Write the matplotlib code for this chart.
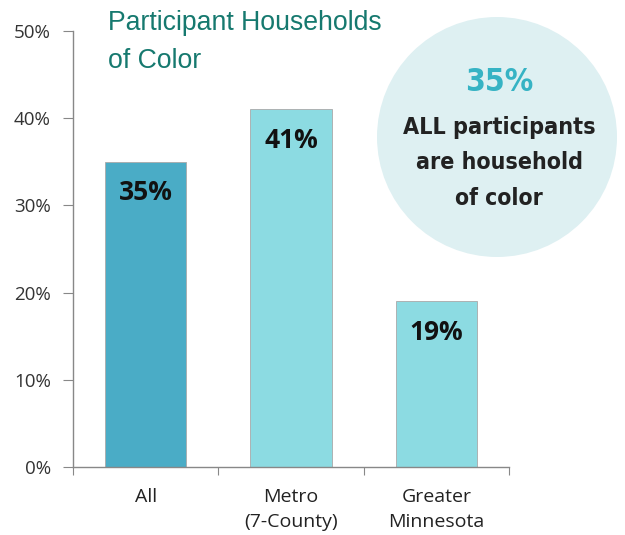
import matplotlib
matplotlib.use("Agg")
import matplotlib.pyplot as plt
from matplotlib.patches import Ellipse
from matplotlib import font_manager as fm

categories = ["All", "Metro\n(7-County)", "Greater\nMinnesota"]
values = [35, 41, 19]
bar_labels = ["35%", "41%", "19%"]
yticks = [0, 10, 20, 30, 40, 50]
ytick_labels = ["0%", "10%", "20%", "30%", "40%", "50%"]
bar_colors = ["#4aacc6", "#8cdbe2", "#8cdbe2"]

# pick a condensed bold font if one is installed
def pick_condensed():
    fl = fm.fontManager.ttflist
    for f in fl:
        if f.name == "Liberation Sans Narrow" and f.weight in (700, "bold"):
            return fm.FontProperties(fname=f.fname)
    for f in fl:
        if ("Condensed" in f.name or "Narrow" in f.name or f.stretch in ("condensed", "semi-condensed", 'extra-condensed')) \
                and f.weight in (700, "bold"):
            return fm.FontProperties(fname=f.fname)
    return fm.FontProperties(family="Roboto", weight="bold")

cprop = pick_condensed()

W, H = 625, 535
fig = plt.figure(figsize=(W / 100, H / 100), dpi=100)
ax = fig.add_axes([73 / W, 1 - 467 / H, (509 - 73) / W, (467 - 31) / H])
ax.set_facecolor("none")

fig.patches.append(Ellipse((497 / W, 1 - 137 / H), 2 * 120 / W, 2 * 120 / H,
                           transform=fig.transFigure, facecolor="#def0f2",
                           edgecolor="none", zorder=0))

x = list(range(len(categories)))
ax.bar(x, values, width=0.56, color=bar_colors, edgecolor="#a9a9a9", linewidth=0.6, zorder=2)
ax.set_xlim(-0.5, 2.5)
ax.set_ylim(0, 50)

for xi, v, lab in zip(x, values, bar_labels):
    ax.annotate(lab, (xi, v), xytext=(0, -31 * 0.72), textcoords="offset points",
                ha="center", va="center", fontsize=19, fontweight="bold",
                family="Open Sans", color="#111111", zorder=3)

ax.set_yticks(yticks)
ax.set_yticklabels(ytick_labels, family="Open Sans", fontsize=13.5, color="#333333")
ax.set_xticks([-0.5, 0.5, 1.5, 2.5])
ax.set_xticklabels([])
ax.set_xticks(x, minor=True)
ax.set_xticklabels(categories, minor=True, family="Open Sans", fontsize=14, color="#222222",
                   linespacing=1.5, va="top")
ax.tick_params(axis="x", which="minor", length=0, pad=15)
ax.tick_params(axis="x", which="major", length=6, color="#888888", direction="out")
ax.tick_params(axis="y", length=7, color="#888888", direction="out", pad=9)
for s in ["top", "right"]:
    ax.spines[s].set_visible(False)
for s in ["left", "bottom"]:
    ax.spines[s].set_color("#888888")
    ax.spines[s].set_linewidth(1.0)

renderer = fig.canvas.get_renderer()

def fit(t, target):
    bb = t.get_window_extent(renderer)
    t.set_fontsize(t.get_fontsize() * target / bb.width)

# title
t1 = fig.text(108 / W, 1 - 30 / H, "Participant Households", ha="left", va="baseline",
              fontsize=15, color="#16796f", family="Liberation Sans")
fit(t1, 275)
t2 = fig.text(108 / W, 1 - 68 / H, "of Color", ha="left", va="baseline",
              fontsize=t1.get_fontsize(), color="#16796f", family="Liberation Sans")

# circle texts
tc = fig.text(499 / W, 1 - 91 / H, "35%", ha="center", va="baseline", fontsize=25,
              color="#36b3c4", fontproperties=cprop)
tc.set_fontsize(25)
fit(tc, 68)
for yy, t, wpx in [(134, "ALL participants", 193), (169, "are household", 168), (205, "of color", 88)]:
    tt = fig.text(499 / W, 1 - yy / H, t, ha="center", va="baseline",
                  color="#222222", fontproperties=cprop)
    tt.set_fontsize(20)
    fit(tt, wpx)

fig.savefig("out.png", dpi=100)
